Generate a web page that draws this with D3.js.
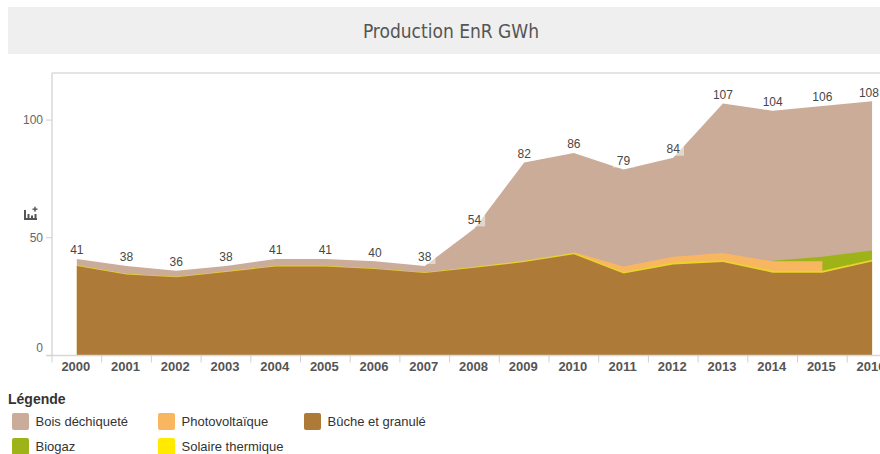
<!DOCTYPE html>
<html lang="fr">
<head>
<meta charset="utf-8">
<script src="https://cdn.jsdelivr.net/npm/d3@7"></script>
<style>
  html, body { margin: 0; padding: 0; background: #fff; }
  svg { display: block; font-family: "Liberation Sans", Arial, sans-serif; }
</style>
</head>
<body>
<svg id="chart" width="880" height="454"></svg>
<script>
// Production d'énergies renouvelables (GWh) par filière
const years = ["2000","2001","2002","2003","2004","2005","2006","2007","2008",
               "2009","2010","2011","2012","2013","2014","2015","2016"];
const bucheGranule      = [38, 34.4, 33.2, 35.5, 37.8, 37.8, 36.7, 35, 37.3, 39.7, 43, 34.8, 38.7, 39.7, 35.2, 35.2, 39.9];
const solaireThermique  = [0.3, 0.3, 0.3, 0.3, 0.3, 0.3, 0.3, 0.3, 0.4, 0.5, 0.6, 0.7, 0.8, 0.8, 0.8, 0.8, 0.8];
const photovoltaique    = [null, null, null, null, null, null, null, null, null, null, 0.3, 2.3, 2.5, 3, 4, 4, null];
const biogaz            = [null, null, null, null, null, null, null, null, null, null, null, null, null, null, 0.2, 2, 3.9];
const boisDechiquete    = [2.7, 3.3, 2.5, 2.2, 2.9, 2.9, 3.0, 2.7, 16.3, 41.8, 42.1, 41.2, 42, 63.5, 63.8, 64, 63.4];
const yTicks = [0, 50, 100];

const series = [
  { key: "buche", name: "Bûche et granulé",  values: bucheGranule,     color: "#ae7a38", legend: "#ae7a38" },
  { key: "solaire", name: "Solaire thermique", values: solaireThermique, color: "#e9d52a", legend: "#ffea00" },
  { key: "photo", name: "Photovoltaïque",    values: photovoltaique,   color: "#f8b661", legend: "#f8b661" },
  { key: "biogaz", name: "Biogaz",           values: biogaz,           color: "#9eb318", legend: "#9eb318" },
  { key: "bois", name: "Bois déchiqueté",    values: boisDechiquete,   color: "#cbac98", legend: "#cbac98" }
];

const rows = years.map((yr, i) => {
  const r = { year: yr };
  series.forEach(s => { r[s.key] = s.values[i]; });
  return r;
});

const svg = d3.select("#chart");
const W = 880;

// Title band
svg.append("rect").attr("x", 8).attr("y", 7).attr("width", W).attr("height", 47).attr("fill", "#efefef");
svg.append("text").attr("x", 451).attr("y", 38).attr("text-anchor", "middle")
  .attr("font-family", "'DejaVu Sans Condensed', 'DejaVu Sans', sans-serif")
  .attr("font-size", 19).attr("fill", "#555").text("Production EnR GWh");

// Scales
const plotLeft = 52, plotTop = 73, plotBottom = 355.5;
const x = d3.scaleBand().domain(years).range([plotLeft, plotLeft + 17 * 49.7]).paddingInner(0).paddingOuter(0);
const cx = d => x(d) + x.bandwidth() / 2;
const y = d3.scaleLinear().domain([0, 120]).range([plotBottom, plotTop]);

// Stack
const stack = d3.stack().keys(series.map(s => s.key)).value((d, k) => d[k] == null ? 0 : d[k]);
const stacked = stack(rows);

// Plot frame
svg.append("line").attr("x1", plotLeft).attr("x2", W).attr("y1", plotTop).attr("y2", plotTop)
  .attr("stroke", "#e4e4e4").attr("stroke-width", 2);

// Areas painted top layer first, each from the baseline to its cumulative top
const layers = svg.append("g");
for (let i = stacked.length - 1; i >= 0; i--) {
  const s = series[i];
  const layer = stacked[i];
  const area = d3.area()
    .defined((d, j) => s.values[j] != null)
    .x((d, j) => cx(years[j]))
    .y0(() => y(0))
    .y1(d => y(d[1]));
  layers.append("path").datum(layer).attr("d", area).attr("fill", s.color);
}

// Axes
svg.append("line").attr("x1", plotLeft).attr("x2", plotLeft).attr("y1", plotTop).attr("y2", plotBottom)
  .attr("stroke", "#d8d8d8").attr("stroke-width", 1.5);
svg.append("line").attr("x1", plotLeft - 6).attr("x2", W).attr("y1", plotBottom).attr("y2", plotBottom)
  .attr("stroke", "#d8d8d8").attr("stroke-width", 1.5);

const yAxis = svg.append("g");
yTicks.forEach(t => {
  yAxis.append("line").attr("x1", plotLeft - 6).attr("x2", plotLeft).attr("y1", y(t)).attr("y2", y(t))
    .attr("stroke", "#d0d0d0");
  yAxis.append("text").attr("x", 43).attr("y", (t === 0 ? y(t) - 8 : y(t)) + 4)
    .attr("text-anchor", "end").attr("font-size", 12).attr("fill", "#666").text(t);
});

// Y axis icon
const icon = svg.append("g").attr("fill", "#555");
icon.append("rect").attr("x", 24).attr("y", 210).attr("width", 2).attr("height", 10);
icon.append("rect").attr("x", 24).attr("y", 218).attr("width", 13).attr("height", 2);
icon.append("rect").attr("x", 27.5).attr("y", 214).attr("width", 2).attr("height", 6);
icon.append("rect").attr("x", 31).attr("y", 215.5).attr("width", 2).attr("height", 4.5);
icon.append("rect").attr("x", 34.5).attr("y", 214).attr("width", 2).attr("height", 6);
icon.append("rect").attr("x", 32.5).attr("y", 208.5).attr("width", 5).attr("height", 1.4);
icon.append("rect").attr("x", 34.3).attr("y", 206.7).attr("width", 1.4).attr("height", 5);

// X ticks and labels
const xAxis = svg.append("g");
years.forEach((yr, i) => {
  xAxis.append("line").attr("x1", x(yr)).attr("x2", x(yr)).attr("y1", plotBottom).attr("y2", plotBottom + 7)
    .attr("stroke", "#d0d0d0");
  xAxis.append("text").attr("x", cx(yr) - 1).attr("y", 371).attr("text-anchor", "middle")
    .attr("font-size", 13).attr("font-weight", "bold").attr("fill", "#555").text(yr);
});

// Stack totals
const totals = rows.map((r, i) => stacked[stacked.length - 1][i][1]);
const labels = svg.append("g");
totals.forEach((tv, i) => {
  const txt = String(Math.round(tv));
  const tw = txt.length * 6.7;
  let px = cx(years[i]);
  px = Math.min(px, 879 - tw / 2);
  const py = y(tv) - 9;
  labels.append("rect").attr("x", px - tw / 2 - 4).attr("y", py - 7).attr("width", tw + 8).attr("height", 14)
    .attr("fill", "rgba(255,255,255,0.5)");
  labels.append("text").attr("x", px).attr("y", py + 4.3).attr("text-anchor", "middle")
    .attr("font-size", 12).attr("fill", "#474747").text(txt);
});

// Legend
svg.append("text").attr("x", 8).attr("y", 404).attr("font-size", 14).attr("font-weight", "bold")
  .attr("fill", "#333").text("Légende");
const legendOrder = ["bois", "photo", "buche", "biogaz", "solaire"];
const legend = svg.append("g");
legendOrder.forEach((k, i) => {
  const s = series.find(d => d.key === k);
  const col = i % 3, row = Math.floor(i / 3);
  const lx = 12 + col * 146, ly = 421.5 + row * 25;
  legend.append("rect").attr("x", lx).attr("y", ly - 8.5).attr("width", 17).attr("height", 17)
    .attr("rx", 2).attr("fill", s.legend);
  legend.append("text").attr("x", lx + 23.5).attr("y", ly + 4.5).attr("font-size", 13)
    .attr("fill", "#333").text(s.name);
});
</script>
</body>
</html>
